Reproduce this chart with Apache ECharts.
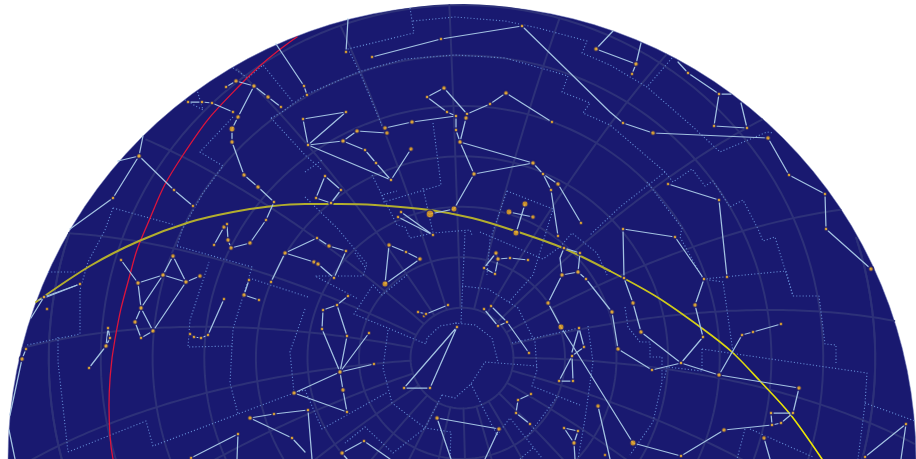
<!DOCTYPE html>
<html><head><meta charset="utf-8">
<style>html,body{margin:0;padding:0;background:#fff}#c{width:916px;height:459px}</style>
<script src="https://cdn.jsdelivr.net/npm/echarts@6/dist/echarts.min.js"></script>
</head><body><div id="c"></div>
<script>
// Star brightness class: [x, y, brightness]  (1 faint .. 4 bright)
const stars=[[226,87,1],[236,81,2],[254,86,2],[268,97,2],[281,107,1],[188,102,1],[202,102,1],[212,103,1],[233,112,1],[238,117,2],[232,129,3],[232,142,2],[244,175,2],[258,187,2],[274,202,1],[266,220,1],[139,156,2],[174,190,1],[193,206,1],[113,198,1],[304,86,1],[307,95,1],[303,119,1],[224,227,2],[227,224,1],[214,245,1],[228,240,2],[231,248,2],[250,243,2],
[346,52,1],[372,57,1],[441,39,1],[522,26,1],[444,88,2],[427,97,1],[447,112,1],[456,116,1],[467,114,1],[466,118,2],[456,130,1],[460,142,2],[490,104,1],[506,93,2],[552,122,1],[533,163,2],[474,174,2],[543,174,1],[558,184,2],[551,190,1],[581,223,1],[454,209,3],[430,214,4],[525,204,3],[509,212,3],[533,217,2],[516,233,3],[412,122,2],[385,128,2],[387,133,2],[357,131,2],[343,141,2],[308,145,1],[346,112,1],[365,150,1],[376,163,1],[391,180,1],[411,149,2],[325,176,1],[341,190,1],[316,198,1],[331,203,1],[401,212,1],[398,217,1],[433,235,1],
[596,49,2],[636,64,2],[632,74,1],[688,73,1],[719,94,1],[714,126,1],[747,128,1],[623,123,1],[653,133,2],[768,138,2],[668,184,1],[719,200,1],[789,175,1],[825,194,1],[826,229,1],[871,269,2],
[623,229,1],[675,237,1],[704,279,1],[695,305,2],[703,337,1],[681,363,1],[652,370,1],[618,349,2],[612,312,2],[624,278,1],[633,303,2],[641,332,2],[719,375,2],[742,335,1],[753,332,1],[781,324,1],[799,388,2],[793,413,1],[771,413,1],[772,425,1],[781,423,1],[724,430,2],[681,456,1],[633,443,3],[764,438,2],[865,457,1],[906,424,1],[727,277,1],
[121,260,1],[138,283,2],[163,275,2],[173,256,2],[186,282,2],[200,276,2],[141,308,2],[135,322,2],[153,331,2],[141,338,1],[80,284,1],[44,297,1],[47,309,1],[108,328,1],[110,338,1],[106,346,2],[89,368,1],[26,349,1],[22,359,2],[224,299,1],[208,335,1],[201,338,1],[194,337,1],[190,334,1],[249,280,1],[244,295,2],[259,300,1],[271,282,1],[285,253,2],[294,393,2],[250,418,2],[274,414,1],[292,438,1],[238,434,1],[191,458,1],
[317,238,1],[329,246,2],[346,251,1],[334,278,1],[314,262,2],[318,264,2],[389,245,2],[406,252,1],[420,259,2],[385,284,3],[496,253,2],[498,259,2],[484,268,1],[495,274,1],[510,258,1],[528,260,1],[564,248,1],[580,253,1],[562,275,2],[578,272,2],[586,279,1],[548,303,2],[561,327,3],[579,328,1],[584,347,1],[572,356,1],[559,381,1],[573,381,1],[558,236,1],
[448,305,1],[418,312,1],[424,316,1],[426,314,1],[484,309,1],[491,306,1],[507,322,1],[498,326,1],[529,353,1],[457,327,1],[404,388,1],[430,388,1],[348,296,1],[337,305,1],[323,310,1],[322,329,1],[347,336,1],[369,333,1],[340,372,2],[374,364,1],[343,390,2],[347,412,1],[308,410,1],[437,418,2],[499,429,2],[342,453,2],[364,441,1],[531,394,1],[518,400,1],[516,413,1],[530,424,1],[564,428,1],[578,431,1],[574,443,2],[598,406,2],[605,455,1]];

// Constellation stick figures
const sticks=[[[226,87],[236,81],[254,86],[268,97],[281,107]],[[188,102],[202,102],[212,103],[233,112]],[[254,86],[238,117],[232,129],[232,142],[244,175],[258,187],[274,202],[266,220],[250,243],[231,248],[228,240],[227,224]],[[214,245],[224,227]],
[[143,136],[139,156],[113,198],[70,229]],[[139,156],[118,161]],[[139,156],[174,190],[193,206]],[[276,44],[304,86],[307,95]],
[[346,52],[348,19]],[[372,57],[441,39],[522,26],[610,112],[623,123],[653,133],[768,138],[789,175],[825,194],[826,229],[871,269]],
[[427,97],[444,88],[467,114],[490,104],[506,93],[552,122]],[[427,97],[447,112],[456,116],[456,130],[460,142],[466,118],[467,114]],[[460,142],[533,163],[474,174],[460,142]],[[474,174],[454,209],[430,214]],[[533,163],[543,174],[558,184],[581,223]],[[543,174],[551,190],[558,236]],
[[412,122],[456,116]],[[412,122],[385,128]],[[387,133],[357,131],[343,141],[308,145],[391,180],[411,149]],[[343,141],[365,150],[376,163],[391,180]],[[308,145],[346,112],[303,119],[308,145]],
[[325,176],[316,198],[331,203],[341,190],[325,176]],[[525,204],[516,233]],[[509,212],[533,217]],[[401,212],[433,235],[398,217]],
[[596,49],[613,31]],[[596,49],[636,64],[641,43]],[[636,64],[632,74]],[[678,62],[688,73],[719,94],[714,126],[747,128],[741,103]],[[719,94],[731,94]],[[668,184],[719,200],[727,277]],
[[623,229],[675,237],[704,279],[695,305],[703,337],[681,363],[652,370],[618,349],[612,312]],[[623,229],[624,278],[633,303],[641,332],[681,363],[719,375],[799,388],[793,413],[771,413],[772,425],[724,430],[681,456]],[[793,413],[781,423],[772,425]],[[719,375],[742,335],[753,332],[781,324]],[[633,443],[681,456]],[[865,457],[906,424],[901,459]],[[764,438],[770,459]],
[[121,260],[138,283],[163,275],[186,282],[200,276]],[[138,283],[141,308],[163,275],[173,256],[186,282],[153,331],[141,338],[135,322],[141,308],[153,331]],
[[80,284],[39,300]],[[80,284],[44,297],[31,318]],[[108,328],[110,338],[106,346],[108,328]],[[106,346],[89,368]],[[26,349],[22,359],[10,415]],[[9,430],[15,459]],
[[224,299],[208,335],[201,338],[194,337],[190,334]],[[249,280],[244,295],[259,300]],[[271,282],[285,253],[317,238],[329,246],[346,251],[334,278],[318,264],[314,262],[285,253]],
[[294,393],[340,372]],[[294,393],[347,412]],[[250,418],[274,414],[308,410],[312,459]],[[250,418],[292,438],[305,452]],[[238,434],[191,458]],[[238,434],[237,459]],
[[389,245],[406,252],[420,259],[385,284],[389,245]],[[496,253],[484,268],[495,274],[498,259],[496,253]],[[498,259],[510,258],[528,260]],[[564,248],[580,253],[578,272],[562,275],[560,258],[564,248]],[[562,275],[548,303],[561,327],[633,443]],[[578,272],[586,279],[612,312]],
[[579,328],[584,347],[572,356],[559,381],[573,381],[572,356]],[[579,328],[572,352]],[[598,406],[610,459]],
[[448,305],[426,314],[424,316],[418,312]],[[484,309],[498,326],[507,322],[491,306]],[[507,322],[529,353]],[[457,327],[404,388],[430,388],[457,327]],
[[348,296],[337,305],[323,310],[322,329],[340,372],[347,336],[337,305]],[[340,372],[369,333]],[[340,372],[374,364]],[[340,372],[343,390],[347,412]],
[[437,418],[499,429],[485,459]],[[437,418],[451,459]],[[347,459],[342,453],[364,441],[390,459]],[[531,394],[518,400],[516,413],[530,424]],[[564,428],[578,431],[574,443],[564,428]],[[574,443],[575,459]]];

// Constellation boundaries
const bounds=[[[233,68],[248,78],[263,65],[293,102]],[[185,100],[203,110],[197,90]],[[271,118],[305,155],[322,170]],[[305,172],[322,160]],[[233,117],[200,152],[223,166],[203,193],[182,230],[177,246]],
[[113,208],[175,225]],[[113,208],[105,230],[88,262],[80,290],[80,334],[27,345]],[[48,272],[77,272]],[[177,246],[252,267],[233,329],[232,346],[188,347],[190,320],[209,262]],[[232,346],[230,383],[238,414]],[[249,278],[308,297]],
[[68,452],[146,421],[153,446],[294,393],[305,390],[322,429],[388,392]],[[305,309],[290,352],[294,393]],[[58,337],[58,362],[68,452]],[[388,330],[383,368],[392,403],[425,428],[451,432],[450,458]],[[442,395],[425,428],[393,453],[365,427],[345,443]],[[442,395],[455,398],[471,384],[485,362]],[[471,384],[497,435]],
[[410,8],[414,33],[348,49],[360,73],[383,128]],[[433,123],[441,185],[384,202],[382,195],[397,191]],[[372,175],[397,225],[405,227],[410,238],[433,233],[470,230],[472,235]],[[423,188],[433,233]],[[465,232],[461,323]],
[[271,118],[282,112],[305,95],[358,72],[405,59],[455,55],[505,58],[558,73],[568,76],[562,92],[590,103],[583,113],[610,125],[665,172],[673,182],[692,169],[705,186],[713,181],[730,207],[743,200],[758,229],[763,241],[775,237],[793,296],[819,296],[825,344],[836,345],[836,365]],
[[413,21],[455,17],[505,21],[538,28],[587,41],[582,53],[610,65],[647,87],[693,127],[720,152],[767,132],[773,133]],[[672,58],[647,87]],
[[507,191],[553,209],[533,275],[508,303]],[[665,172],[620,207],[590,235]],[[507,191],[490,240],[487,275]],[[480,232],[543,259],[560,247],[572,233],[597,253],[607,275]],[[588,326],[593,362],[585,419],[578,459]],[[625,307],[628,327],[640,342],[650,342],[650,357],[662,357],[662,382],[653,422],[630,455]],
[[647,182],[682,228],[680,237],[703,279],[786,271],[793,296]],[[703,279],[723,282],[733,352]],[[702,349],[867,373],[865,404],[858,459]],[[702,349],[702,371],[667,367],[664,380]],[[865,403],[915,421]],
[[457,323],[440,326],[427,338],[426,344],[354,314],[373,285],[382,295],[407,275]],[[355,253],[365,267]],[[305,197],[338,229],[367,264],[363,276],[315,276],[358,299]],
[[462,286],[488,289],[518,308],[535,342],[537,370],[532,386],[580,405]],[[455,323],[475,325],[492,338],[498,362]],[[485,362],[537,366]],[[512,343],[579,328]],[[557,397],[527,437]],[[497,435],[510,418],[542,458]],[[533,448],[520,459]],[[750,429],[813,457]],[[745,429],[737,459]]];

// Ecliptic and galactic equator
const eclipticWest=[[36,302],[90,266],[139,241],[190,222],[233,212],[273,206],[305,204],[340,204],[375,205],[430,210],[472,218],[512,230],[563,248],[610,271]];
const eclipticEast=[[610,271],[657,297],[703,329],[732,352],[760,381],[790,414],[822,459]];
const galactic=[[297,37],[243,82],[183,155],[145,230],[128,282],[115,339],[110,379],[109,406],[110,436],[113,459]];

// Graticule definition (degrees)
const disk={cx:462,cy:459,r:454};
const lat=70, haOffset=1.7, decStep=10, haStep=15;

const rad=Math.PI/180, pxPerRad=disk.r/(Math.PI/2);
function project(dec,ha){
  const d=dec*rad,h=(ha+180+haOffset)*rad,f=lat*rad;
  const cc=Math.sin(f)*Math.sin(d)+Math.cos(f)*Math.cos(d)*Math.cos(h);
  const c=Math.acos(Math.max(-1,Math.min(1,cc)));
  const k=c<1e-6?1:c/Math.sin(c);
  return {vis:c<=Math.PI/2,p:[disk.cx+pxPerRad*k*Math.cos(d)*Math.sin(h),disk.cy-pxPerRad*k*(Math.cos(f)*Math.sin(d)-Math.sin(f)*Math.cos(d)*Math.cos(h))]};
}
function track(fn,a,b,step){const out=[];let cur=[];for(let t=a;t<=b;t+=step){const r=fn(t);if(r.vis)cur.push(r.p);else{if(cur.length>1)out.push(cur);cur=[];}}if(cur.length>1)out.push(cur);return out;}
const grat=[];
for(let dec=80;dec>=-30;dec-=decStep)grat.push(...track(h=>project(dec,h),-360,360,2));
for(let h=0;h<360;h+=haStep)grat.push(...track(d=>project(d,h),-30,80,1));

const line=(data,color,width,type,z,extra,cap)=>Object.assign({type:'line',data,symbol:'none',silent:true,animation:false,z,lineStyle:{color,width,type,join:'round',cap:cap||'round'}},extra||{});
const series=[{type:'custom',silent:true,animation:false,z:1,data:[[disk.cx,disk.cy,disk.r]],renderItem:(p,api)=>{
  const c=api.coord([api.value(0),api.value(1)]);const s=api.size([api.value(2),0]);
  return{type:'circle',shape:{cx:c[0],cy:c[1],r:s[0]},style:{fill:'#191970',stroke:'rgba(120,130,190,.5)',lineWidth:1}};}}];
grat.forEach(g=>series.push(line(g,'#2d3179',2,'solid',2)));
bounds.forEach(b=>series.push(line(b,'#6288d2',1.1,[1.1,2.1],3,null,'butt')));
series.push(line(galactic,'#dc143c',1.3,'solid',4,{smooth:.5}));
series.push(line(eclipticWest,'#b3ae2e',2,'solid',4,{smooth:.3}));
series.push(line(eclipticEast,new echarts.graphic.LinearGradient(0,0,1,0,[{offset:0,color:'#c4bf22'},{offset:1,color:'#f0ea00'}]),1.6,'solid',4,{smooth:.3}));
sticks.forEach(s=>series.push(line(s,'#a3c2e2',1.25,'solid',5)));
series.push({type:'scatter',silent:true,animation:false,z:6,data:stars,
  symbolSize:v=>[0,4,5,6.5,8][v[2]],itemStyle:{color:'#eda61a',borderColor:'#191970',borderWidth:1.6}});

const chart=echarts.init(document.getElementById('c'),null,{renderer:'canvas'});
chart.setOption({backgroundColor:'#fff',animation:false,
  grid:{left:0,right:0,top:0,bottom:0},
  xAxis:{type:'value',min:0,max:916,show:false},
  yAxis:{type:'value',min:0,max:459,inverse:true,show:false},
  series});
</script></body></html>
